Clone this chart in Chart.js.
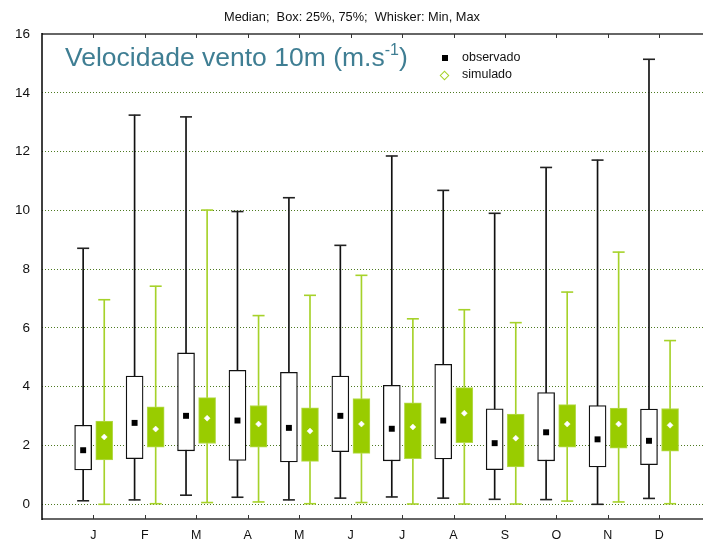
<!DOCTYPE html>
<html>
<head>
<meta charset="utf-8">
<script src="https://cdn.jsdelivr.net/npm/chart.js@4/dist/chart.umd.min.js"></script>
<style>
  html, body { margin: 0; padding: 0; background: #fff; }
  #wrap { position: relative; width: 703px; height: 542px; overflow: hidden; font-family: 'Liberation Sans', Arial, sans-serif; }
  canvas { position: absolute; left: 0; top: 0; }
  .sub { position: absolute; left: 0; width: 704px; top: 9px; text-align: center; font-size: 12.8px; color: #111; white-space: pre; }
  .big { position: absolute; left: 65px; top: 44px; font-size: 26.5px; line-height: 1; color: #3f7e93; white-space: nowrap; }
  .big sup { font-size: 16px; vertical-align: 11px; line-height: 0; }
  .leg { position: absolute; left: 462px; font-size: 12.5px; color: #111; line-height: 1; }
  .mk-obs { position: absolute; left: 442px; top: 55px; width: 6px; height: 6px; background: #000; }
  .mk-sim { position: absolute; left: 441px; top: 72px; width: 5px; height: 5px; border: 1.3px solid #a6d22a; transform: rotate(45deg); }
</style>
</head>
<body>
<div id="wrap">
  <canvas id="c" width="703" height="542"></canvas>
  <div class="sub">Median;  Box: 25%, 75%;  Whisker: Min, Max</div>
  <div class="big">Velocidade vento 10m (m.s<sup>-1</sup>)</div>
  <div class="mk-obs"></div>
  <div class="leg" style="top:51px">observado</div>
  <div class="mk-sim"></div>
  <div class="leg" style="top:68px">simulado</div>
</div>
<script>
// month-by-month wind speed stats
const MONTHS = ["J", "F", "M", "A", "M", "J", "J", "A", "S", "O", "N", "D"];

const OBS_MIN = [0.12, 0.15, 0.31, 0.24, 0.15, 0.21, 0.25, 0.21, 0.17, 0.16, 0.00, 0.20];
const OBS_Q1  = [1.17, 1.55, 1.82, 1.49, 1.44, 1.79, 1.48, 1.54, 1.18, 1.48, 1.27, 1.35];
const OBS_MED = [1.84, 2.77, 3.01, 2.85, 2.60, 3.01, 2.57, 2.85, 2.08, 2.45, 2.21, 2.16];
const OBS_Q3  = [2.69, 4.36, 5.15, 4.56, 4.49, 4.36, 4.05, 4.76, 3.25, 3.80, 3.36, 3.24];
const OBS_MAX = [8.71, 13.24, 13.18, 9.96, 10.43, 8.81, 11.85, 10.68, 9.90, 11.46, 11.71, 15.14];

const SIM_MIN = [0.00, 0.02, 0.06, 0.08, 0.02, 0.06, 0.01, 0.01, 0.01, 0.11, 0.08, 0.02];
const SIM_Q1  = [1.51, 1.94, 2.07, 1.94, 1.46, 1.73, 1.55, 2.10, 1.27, 1.94, 1.91, 1.81];
const SIM_MED = [2.29, 2.56, 2.93, 2.73, 2.49, 2.73, 2.63, 3.10, 2.25, 2.73, 2.73, 2.69];
const SIM_Q3  = [2.83, 3.32, 3.63, 3.36, 3.28, 3.60, 3.45, 3.97, 3.07, 3.39, 3.27, 3.26];
const SIM_MAX = [6.96, 7.42, 10.01, 6.42, 7.11, 7.79, 6.31, 6.62, 6.18, 7.22, 8.58, 5.57];

const Y_TICKS = [0, 2, 4, 6, 8, 10, 12, 14, 16];

const FONT = "'Liberation Sans', Arial, sans-serif";
const GREEN = "#99cc00";
const GREEN_LINE = "#a6d22a";
const OBS_DX = -0.2;
const SIM_DX = 0.21;

const xs = (dx) => MONTHS.map((_, i) => i + 1 + dx);
const range = (dx, lo, hi) => xs(dx).map((x, i) => ({ x, y: [lo[i], hi[i]] }));
const pts = (dx, ys) => xs(dx).map((x, i) => ({ x, y: ys[i] }));

// frame: top line + inward tick marks top and bottom, left axis
const frame = {
  id: "frame",
  afterDatasetsDraw(chart) {
    const { ctx, chartArea: a, scales } = chart;
    ctx.save();
    ctx.strokeStyle = "#666";
    ctx.lineWidth = 2;
    ctx.beginPath();
    ctx.moveTo(a.left, a.top);
    ctx.lineTo(a.right, a.top);
    ctx.moveTo(a.left, a.bottom);
    ctx.lineTo(a.right, a.bottom);
    ctx.stroke();
    ctx.lineWidth = 1;
    ctx.strokeStyle = "#333";
    ctx.beginPath();
    MONTHS.forEach((_, i) => {
      const x = Math.round(scales.x.getPixelForValue(i + 1)) + 0.5;
      ctx.moveTo(x, a.top);
      ctx.lineTo(x, a.top + 4);
      ctx.moveTo(x, a.bottom);
      ctx.lineTo(x, a.bottom - 4);
    });
    ctx.stroke();
    ctx.strokeStyle = "#000";
    ctx.lineWidth = 1.5;
    ctx.beginPath();
    ctx.moveTo(a.left, a.top - 1);
    ctx.lineTo(a.left, a.bottom + 1);
    ctx.stroke();
    ctx.restore();
  },
};

new Chart(document.getElementById("c"), {
  type: "bar",
  data: {
    datasets: [
      { type: "bar", data: range(OBS_DX, OBS_MIN, OBS_MAX), backgroundColor: "#111", barThickness: 1, grouped: false, order: 6 },
      { type: "bar", data: range(SIM_DX, SIM_MIN, SIM_MAX), backgroundColor: GREEN_LINE, barThickness: 1, grouped: false, order: 6 },
      { type: "bar", data: range(OBS_DX, OBS_Q1, OBS_Q3), backgroundColor: "#fff", borderColor: "#111", borderWidth: 1.3, borderSkipped: false, barThickness: 17, grouped: false, order: 5 },
      { type: "bar", data: range(SIM_DX, SIM_Q1, SIM_Q3), backgroundColor: GREEN, borderColor: "#b5da4e", borderWidth: 1, borderSkipped: false, barThickness: 17, grouped: false, order: 5 },
      { type: "scatter", data: pts(OBS_DX, OBS_MIN).concat(pts(OBS_DX, OBS_MAX)), pointStyle: "line", radius: 6, borderColor: "#222", borderWidth: 1.6, order: 3 },
      { type: "scatter", data: pts(SIM_DX, SIM_MIN).concat(pts(SIM_DX, SIM_MAX)), pointStyle: "line", radius: 6, borderColor: GREEN_LINE, borderWidth: 1.6, order: 3 },
      { type: "scatter", data: pts(OBS_DX, OBS_MED), pointStyle: "rect", radius: 4.2, backgroundColor: "#000", borderColor: "#000", borderWidth: 0, order: 1 },
      { type: "scatter", data: pts(SIM_DX, SIM_MED), pointStyle: "rectRot", radius: 3, backgroundColor: "#fff", borderColor: "#fff", borderWidth: 0.5, order: 1 },
    ],
  },
  options: {
    responsive: false,
    animation: false,
    devicePixelRatio: 1,
    layout: { autoPadding: false, padding: { top: 34, right: 0, left: 0, bottom: 0 } },
    plugins: { legend: { display: false }, tooltip: { enabled: false } },
    scales: {
      x: {
        type: "linear",
        min: 0,
        max: 12.85,
        offset: false,
        afterBuildTicks: (s) => { s.ticks = MONTHS.map((_, i) => ({ value: i + 1 })); },
        afterFit: (s) => { s.height = 23; s.paddingLeft = 0; s.paddingRight = 0; },
        grid: { display: false },
        border: { display: false },
        ticks: {
          padding: 1,
          color: "#111",
          font: { family: FONT, size: 12.5 },
          maxRotation: 0,
          autoSkip: false,
          callback: (v) => MONTHS[v - 1] || "",
        },
      },
      y: {
        min: -0.5,
        max: 16,
        afterBuildTicks: (s) => { s.ticks = Y_TICKS.map((v) => ({ value: v })); },
        afterFit: (s) => { s.width = 42; },
        grid: { color: "#4e7a22", lineWidth: 1, drawTicks: false },
        border: { display: false, dash: [1, 2] },
        ticks: { padding: 12, color: "#111", font: { family: FONT, size: 13.5 } },
      },
    },
  },
  plugins: [frame],
});
</script>
</body>
</html>
